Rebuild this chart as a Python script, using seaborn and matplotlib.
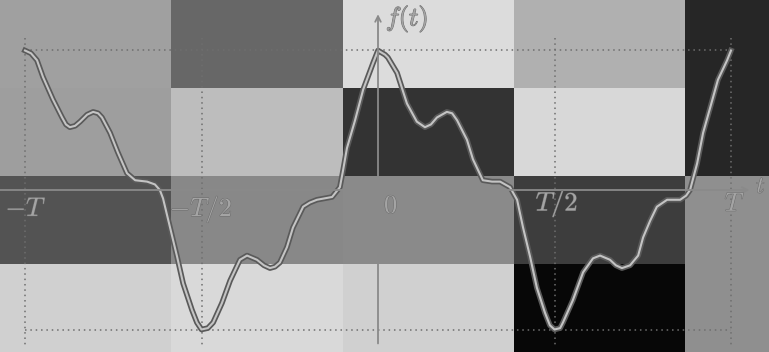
import numpy as np
import pandas as pd
import matplotlib
matplotlib.use("Agg")
import matplotlib.pyplot as plt
import matplotlib.patheffects as pe
import seaborn as sns

# grey levels of the background tiles (rows top->bottom, cols left->right)
tile_row0 = [160, 103, 220, 176, 38]
tile_row1 = [158, 189, 51, 216, 38]
tile_row2 = [83, 136, 138, 61, 143]
tile_row3 = [208, 217, 208, 7, 143]

# f(t), t in units of the period T, f normalised to its max
t_vals = [-1.000, -0.983, -0.966, -0.949, -0.921, -0.895, -0.884, -0.873, -0.858, -0.844,
          -0.824, -0.807, -0.793, -0.782, -0.759, -0.737, -0.711, -0.688, -0.654, -0.632,
          -0.618, -0.609, -0.589, -0.569, -0.552, -0.527, -0.513, -0.500, -0.482, -0.467,
          -0.442, -0.419, -0.391, -0.371, -0.343, -0.323, -0.306, -0.292, -0.278, -0.258,
          -0.241, -0.212, -0.193, -0.173, -0.130, -0.108, -0.099, -0.088, -0.065, -0.042,
          -0.014, 0.000, 0.020, 0.028, 0.054, 0.082, 0.110, 0.133, 0.150, 0.167,
          0.195, 0.210, 0.224, 0.252, 0.269, 0.297, 0.323, 0.346, 0.374, 0.394,
          0.411, 0.431, 0.450, 0.473, 0.487, 0.500, 0.516, 0.524, 0.552, 0.581,
          0.609, 0.629, 0.657, 0.674, 0.691, 0.714, 0.737, 0.751, 0.771, 0.790,
          0.819, 0.856, 0.873, 0.884, 0.904, 0.921, 0.941, 0.963, 0.989, 1.000]
f_vals = [1.00, 0.98, 0.93, 0.81, 0.65, 0.52, 0.47, 0.45, 0.46, 0.49,
          0.54, 0.56, 0.55, 0.52, 0.41, 0.27, 0.12, 0.07, 0.06, 0.04,
          0.00, -0.06, -0.27, -0.48, -0.67, -0.86, -0.95, -1.00, -0.99, -0.95,
          -0.81, -0.65, -0.50, -0.47, -0.50, -0.54, -0.56, -0.55, -0.52, -0.41,
          -0.27, -0.12, -0.09, -0.07, -0.05, 0.02, 0.14, 0.30, 0.50, 0.72,
          0.91, 1.00, 0.97, 0.95, 0.84, 0.62, 0.49, 0.45, 0.47, 0.52,
          0.56, 0.55, 0.50, 0.36, 0.22, 0.07, 0.06, 0.06, 0.02, -0.07,
          -0.27, -0.48, -0.70, -0.88, -0.97, -1.00, -0.99, -0.95, -0.79, -0.59,
          -0.49, -0.47, -0.50, -0.54, -0.56, -0.54, -0.47, -0.34, -0.22, -0.12,
          -0.07, -0.07, -0.04, 0.00, 0.19, 0.41, 0.59, 0.79, 0.93, 1.00]

tick_pos = [-1.0, -0.5, 0.0, 0.5, 1.0]
tick_labels = [r"$-T$", r"$-T/2$", r"$0$", r"$T/2$", r"$T$"]

plt.rcParams["mathtext.fontset"] = "cm"

fig = plt.figure(figsize=(7.69, 3.52), dpi=100)

# background mosaic
ax_bg = fig.add_axes([0, 0, 1, 1])
grid = np.array([tile_row0, tile_row1, tile_row2, tile_row3])
sns.heatmap(grid, cmap="gray", vmin=0, vmax=255, cbar=False, ax=ax_bg,
            xticklabels=False, yticklabels=False)
ax_bg.set_xlim(0, 769 / 171.3)
ax_bg.axis("off")

# the plot itself
ax = fig.add_axes([0, 0, 1, 1])
ax.patch.set_alpha(0)
ax.set_xlim(-378 / 353, 391 / 353)
ax.set_ylim(-162 / 139.5, 190 / 139.5)
ax.axis("off")

dot_col = "#6e6e6e"
ax.plot([-1, 1], [1, 1], ls=(0, (1, 2.5)), color=dot_col, lw=1.1)
ax.plot([-1, 1], [-1, -1], ls=(0, (1, 2.5)), color=dot_col, lw=1.1)
for xv in [-1.0, -0.5, 0.5, 1.0]:
    ax.plot([xv, xv], [1.09, -1.11], ls=(0, (1, 2.5)), color=dot_col, lw=1.1)

# axes with arrows
ax.annotate("", xy=(1.06, 0), xytext=(-1.08, 0),
            arrowprops=dict(arrowstyle="->", color="#8a8a8a", lw=1.3))
ax.annotate("", xy=(0, 1.28), xytext=(0, -1.12),
            arrowprops=dict(arrowstyle="->", color="#8a8a8a", lw=1.3))

df = pd.DataFrame({"t": t_vals, "f": f_vals})
sns.lineplot(data=df, x="t", y="f", sort=False, estimator=None, ax=ax,
             color="#5a5a5a", lw=4.0)
sns.lineplot(data=df, x="t", y="f", sort=False, estimator=None, ax=ax,
             color="#c4c4c4", lw=1.5)

lab_col = "#a4a4a4"
outline = [pe.withStroke(linewidth=0.7, foreground="#6a6a6a")]
lab_xy = [(-0.997, -0.136), (-0.501, -0.14), (0.037, -0.115), (0.507, -0.10), (1.011, -0.10)]
for lab, (xv, yv) in zip(tick_labels, lab_xy):
    ax.text(xv, yv, lab, color=lab_col, fontsize=19, ha="center", va="center",
            path_effects=outline)
ax.text(1.085, 0.03, r"$t$", color=lab_col, fontsize=17, ha="center", va="center",
        path_effects=outline)
ax.text(0.082, 1.226, r"$f(t)$", color=lab_col, fontsize=19, ha="center", va="center",
        path_effects=outline)

fig.savefig("out.png", dpi=100)
